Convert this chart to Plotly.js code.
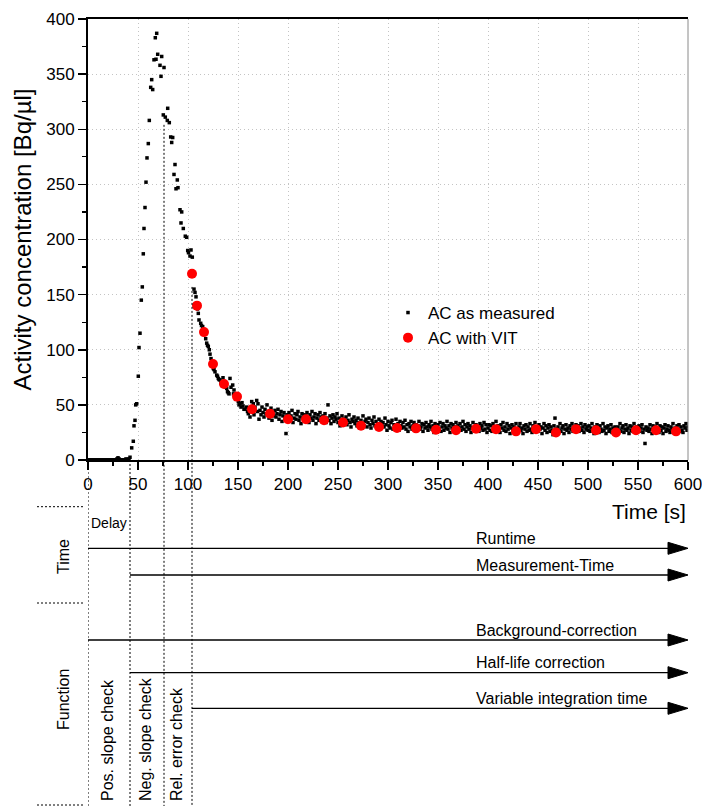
<!DOCTYPE html>
<html>
<head>
<meta charset="utf-8">
<script src="https://cdn.plot.ly/plotly-3.0.1.min.js"></script>
<style>html,body{margin:0;padding:0;background:#fff}#chart{width:702px;height:806px}</style>
</head>
<body>
<div id="chart"></div>
<script>
// ---------------- DATA ----------------
// baseline before the bolus (1 s sampling starting at 0 s)
const baselineAC = [0,0,0,0,0,0,0,0,0,0, 0,0,0,0,0,0,0,0,0,0, 0,0,0,0,0,0,0,0,0,1, 2,1,0,0,0,0,0,0,1,0, 0.5,1];
// transient part (rise, peak, decay)
const transientTime = [42,43.7,45.3,46,47,47.7,48.7,50.3,51,52,
  53.3,54.3,55.3,56,57,58,59,60.3,61.3,62.7,
  63.7,64.7,66,67.3,68,68.7,69.7,72,73,73.7,
  75.3,76,77.3,79.3,79.7,81.3,82.7,83.7,84.7,86,
  87,88,89.3,90,92,93,93.7,95.3,97.3,98.7,
  99.7,100.5,102,103,104.3,106,107,108,109.5,110.3,
  111,112.7,113.5,114.7,116,117.7,118.7,119.5,120.3,121.3,
  122,123,124,125.3,126,127,128.7,129.5,130.3,131,
  132,133,134,135,136,137.5,138.7,139.5,140.3,141,
  142,143,144.7,145.5,146,147,148,149,150.3,151,
  152,153,154,155,156,157,158.7,159.5,160.3,161,
  162,163.7,164.5,165.3,166,167,168.7,169.5];
const transientAC = [2.5,11,17,31,36,50,51,76,102,115,
  145,157,187,210,229,252,274,287,308,338,
  345,336,363,383,363.5,387,368,358,348,366,
  313,356,311,308,319,306,293,288,292.5,259,
  268,246,254,247,227,215,225,210,203,202,
  190,188,185,190.5,184,155,152,148,137,133,
  127,124,122,121,115,110,106,104,103,100,
  96,92,88,83,82,80,77,76,74,73,
  72.6,70,68,74.6,67,66,65,62,61,60,
  74,66,68,60,63.5,57,55,58,53,50,
  51,48,52,49,46,46,48,44,42,47,
  39,53,45,51,41,48,54,44];
// equilibrium tail (1 s sampling starting at 170 s)
const tailAC = [
  51,37,45,41,48,43,39,46,42,50,
  44,38,41,47,36,43,40,45,39,42,
  46,37,41,44,35,40,43,38,24,41,
  39,43,36,40,45,34,38,42,37,41,
  44,36,39,33,42,38,41,35,40,43,
  37,34,41,38,44,36,39,42,33,38,
  41,36,43,39,35,40,37,42,34,38,
  50,36,40,33,38,41,35,39,37,42,
  34,38,31,36,40,33,37,35,39,32,
  36,41,34,30,37,35,39,33,36,31,
  38,34,29,36,33,40,31,35,37,30,
  34,38,32,29,36,33,39,31,35,30,
  33,37,28,35,31,34,30,38,32,27,
  35,31,29,34,36,28,32,30,37,29,
  33,27,35,31,29,34,30,36,28,32,
  26,33,30,35,28,31,34,29,32,27,
  31,35,28,30,33,26,32,29,34,30,
  27,32,30,35,28,31,25,33,29,30,
  32,28,34,26,30,33,27,31,29,35,
  28,31,25,33,29,32,27,30,34,26,
  31,29,33,27,30,35,28,32,26,30,
  33,28,31,25,29,34,27,30,32,28,
  30,26,33,29,31,27,34,28,32,25,
  29,32,27,31,26,33,28,30,35,27,
  31,28,25,32,29,34,27,30,26,33,
  28,31,24,29,32,27,30,25,33,28,
  26,30,33,27,29,24,31,28,32,26,
  30,27,33,28,25,31,29,34,27,30,
  26,32,28,30,24,29,33,27,31,25,
  29,32,26,30,27,23,31,38,28,25,
  30,27,33,26,29,31,24,28,32,27,
  29,25,31,28,33,26,30,27,32,28,
  31,26,29,33,27,30,25,32,28,30,
  27,31,26,29,33,28,24,30,27,32,
  29,25,31,28,26,33,27,30,24,29,
  31,26,28,32,25,29,27,30,23,28,
  30,27,33,26,29,31,25,28,32,27,
  29,24,31,27,30,26,33,28,25,30,
  27,31,26,29,32,25,28,15,30,27,
  29,26,32,28,24,31,27,30,26,33,
  28,25,31,27,30,24,29,32,26,28,
  31,27,25,30,28,33,26,29,24,31,
  28,32,26,30,27,25,31,29,33,27,
  30];
// activity concentration with variable integration time
const vitTime = [104,109,116,125,136,149,164,182,200,218,236,255,273,291,309,328,348,368,388,408,428,448,468,488,508,528,548,568,588];
const vitAC   = [169,140,116,87,69,57.5,46,42,37,37,36,34,31,30,29,28.7,27.5,27,28.4,28,26,28,25,28,27,25,27,27,26];

const xTicks = [0,50,100,150,200,250,300,350,400,450,500,550,600];
const yTicks = [0,50,100,150,200,250,300,350,400];

// process diagram
const phaseTimes  = [0, 42, 76, 104];           // delay end, measurement start, peak, VIT start
const phaseTopAC  = [0, 0, 304, 157];           // where each dotted marker line starts (in AC units)
const checkLabels = ['Pos. slope check', 'Neg. slope check', 'Rel. error check'];
const timeArrowLabels = ['Runtime', 'Measurement-Time'];
const timeArrowStart  = [0, 42];
const funcArrowLabels = ['Background-correction', 'Half-life correction', 'Variable integration time'];
const funcArrowStart  = [0, 42, 104];

// ---------------- LAYOUT HELPERS ----------------
const FONT = 'Liberation Sans, Arial, Helvetica, sans-serif';
const W = 702, H = 806, L = 88, R = 14, T = 19, B = 346;
const plotH = H - T - B, plotW = W - L - R;
const Y_MAX = 400;
const yPx = p => (H - B - p) / plotH;   // pixel row -> paper y
const xPx = p => (p - L) / plotW;       // pixel column -> paper x
const yAC = v => v / Y_MAX;             // AC value -> paper y

const traces = [
  {x0: 0, dx: 1, y: baselineAC, type: 'scatter', mode: 'markers', name: 'AC as measured',
   legendgroup: 'm', showlegend: true,
   marker: {symbol: 'square', size: 3.5, color: '#000'}},
  {x: transientTime, y: transientAC, type: 'scatter', mode: 'markers', name: 'AC as measured',
   legendgroup: 'm', showlegend: false,
   marker: {symbol: 'square', size: 3.5, color: '#000'}},
  {x0: 170, dx: 1, y: tailAC, type: 'scatter', mode: 'markers', name: 'AC as measured',
   legendgroup: 'm', showlegend: false,
   marker: {symbol: 'square', size: 3.5, color: '#000'}},
  {x: vitTime, y: vitAC, type: 'scatter', mode: 'markers', name: 'AC with VIT',
   marker: {symbol: 'circle', size: 10, color: '#ff0000'}}
];

const shapes = [];
const annotations = [];
const BOTTOM = yPx(806);

// right frame line
shapes.push({type: 'line', xref: 'paper', yref: 'paper', x0: 1, x1: 1, y0: 0, y1: 1,
  line: {color: '#8a8a8a', width: 1}});

// vertical dotted phase lines
phaseTimes.forEach((t, i) => {
  shapes.push({type: 'line', xref: 'x', yref: 'paper', x0: t, x1: t, y0: yAC(phaseTopAC[i]), y1: BOTTOM,
    line: {color: '#000', width: 1, dash: '2px,2px'}, layer: 'above'});
});

// left section separators
[506.7, 603, 805].forEach(p => {
  shapes.push({type: 'line', xref: 'paper', yref: 'paper', x0: xPx(37), x1: xPx(83), y0: yPx(p), y1: yPx(p),
    line: {color: '#000', width: 1, dash: '2px,2px'}});
});

// arrows
const ARROW_LEN = 20, ARROW_HALF = 6 / plotH;
function arrow(tStart, rowPx, label) {
  const y = yPx(rowPx);
  const tEnd = xTicks[xTicks.length - 1];
  shapes.push({type: 'line', xref: 'x', yref: 'paper', x0: tStart, x1: tEnd - ARROW_LEN, y0: y, y1: y,
    line: {color: '#000', width: 1.3}});
  shapes.push({type: 'path', xref: 'x', yref: 'paper',
    path: `M ${tEnd - ARROW_LEN},${y + ARROW_HALF} L ${tEnd},${y} L ${tEnd - ARROW_LEN},${y - ARROW_HALF} Z`,
    fillcolor: '#000', line: {color: '#000', width: 1}});
  annotations.push({xref: 'x', yref: 'paper', x: 386, y: yPx(rowPx - 10), text: label,
    showarrow: false, xanchor: 'left', yanchor: 'middle', font: {size: 16, color: '#000', family: FONT}});
}
const timeRows = [548.3, 575];
const funcRows = [640, 672.7, 708.3];
timeArrowLabels.forEach((lb, i) => arrow(timeArrowStart[i], timeRows[i], lb));
funcArrowLabels.forEach((lb, i) => arrow(funcArrowStart[i], funcRows[i], lb));

// check labels (rotated)
checkLabels.forEach((lb, i) => {
  const mid = (phaseTimes[i] + phaseTimes[i + 1]) / 2 - 2;
  annotations.push({xref: 'x', yref: 'paper', x: mid, y: yPx(803), text: lb, textangle: -90,
    showarrow: false, xanchor: 'center', yanchor: 'bottom', font: {size: 16, color: '#000', family: FONT}});
});

// section labels
annotations.push({xref: 'paper', yref: 'paper', x: xPx(63), y: yPx(557), text: 'Time', textangle: -90,
  showarrow: false, xanchor: 'center', yanchor: 'middle', font: {size: 16, color: '#000', family: FONT}});
annotations.push({xref: 'paper', yref: 'paper', x: xPx(63), y: yPx(700), text: 'Function', textangle: -90,
  showarrow: false, xanchor: 'center', yanchor: 'middle', font: {size: 16, color: '#000', family: FONT}});
annotations.push({xref: 'x', yref: 'paper', x: 1, y: yPx(523), text: 'Delay',
  showarrow: false, xanchor: 'left', yanchor: 'middle', font: {size: 14, color: '#000', family: FONT}});

// x axis title (right aligned)
annotations.push({xref: 'x', yref: 'paper', x: xTicks[xTicks.length - 1], y: yPx(511.7), text: 'Time [s]',
  showarrow: false, xanchor: 'right', yanchor: 'middle', font: {size: 21, color: '#000', family: FONT}});

const GRID = {showgrid: true, gridcolor: '#c4c4c4', griddash: '1px,3px', gridwidth: 1};

const layout = {
  width: W, height: H,
  margin: {l: L, r: R, t: T, b: B, pad: 0},
  paper_bgcolor: '#fff', plot_bgcolor: '#fff',
  font: {family: FONT, color: '#000', size: 17},
  showlegend: true,
  legend: {x: xPx(388), y: yPx(295), xanchor: 'left', yanchor: 'top', bgcolor: 'rgba(0,0,0,0)',
    tracegroupgap: 0, font: {size: 17, family: FONT, color: '#000'}, itemsizing: 'trace'},
  xaxis: Object.assign({
    range: [0, 600], tickmode: 'array', tickvals: xTicks, ticktext: xTicks.map(String),
    ticks: 'outside', ticklen: 8, tickwidth: 1.5, tickcolor: '#000', ticklabeloverflow: 'allow',
    minor: {dtick: 25, tick0: 0, ticks: 'outside', ticklen: 4, tickwidth: 1.2, tickcolor: '#000', showgrid: false},
    showline: true, linecolor: '#000', linewidth: 2, mirror: true,
    zeroline: false, tickfont: {size: 17, family: FONT, color: '#000'}, automargin: false
  }, GRID),
  yaxis: Object.assign({
    range: [0, Y_MAX], tickmode: 'array', tickvals: yTicks, ticktext: yTicks.map(String),
    ticks: 'outside', ticklen: 8, tickwidth: 1.5, tickcolor: '#000', ticklabeloverflow: 'allow',
    minor: {dtick: 25, tick0: 0, ticks: 'outside', ticklen: 4, tickwidth: 1.2, tickcolor: '#000', showgrid: false},
    showline: true, linecolor: '#000', linewidth: 2,
    zeroline: false, tickfont: {size: 17, family: FONT, color: '#000'}, automargin: false,
    title: {text: 'Activity concentration [Bq/µl]', font: {size: 24, family: FONT, color: '#000'}, standoff: 8}
  }, GRID),
  shapes: shapes,
  annotations: annotations
};

Plotly.newPlot('chart', traces, layout, {displayModeBar: false, staticPlot: true});
</script>
</body>
</html>
